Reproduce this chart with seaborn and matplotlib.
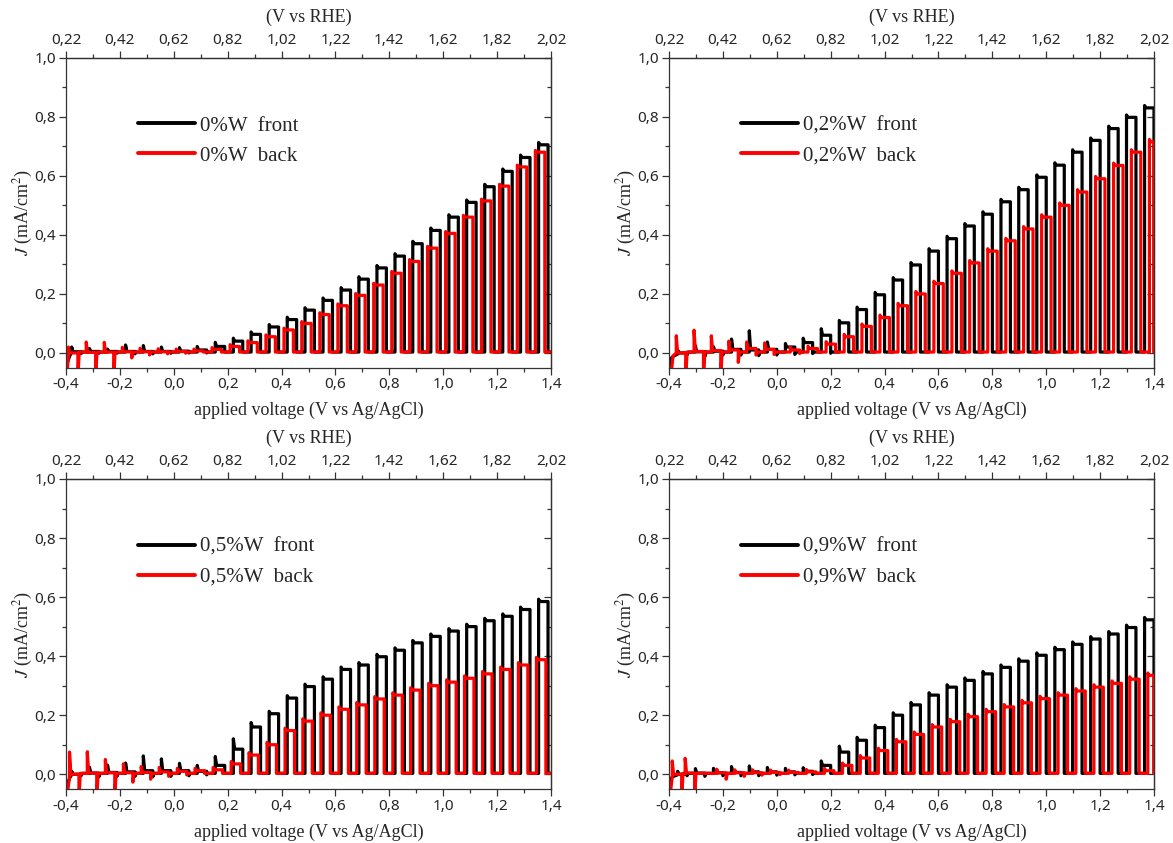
import matplotlib
matplotlib.use("Agg")
import matplotlib.pyplot as plt
from matplotlib.lines import Line2D
from matplotlib.ticker import MultipleLocator, FixedLocator, FuncFormatter
import seaborn as sns

# ---------------------------------------------------------------------------
# Chopped-light linear sweeps: light-on potential (V vs Ag/AgCl) of each pulse,
# steady photocurrent during the pulse (mA/cm2), on-transient and off-transient.
# ---------------------------------------------------------------------------

# 0 %W
W0_FRONT_ON = [-0.379, -0.313, -0.246, -0.179, -0.113, -0.046, 0.021, 0.087, 0.154,
               0.221, 0.287, 0.354, 0.421, 0.487, 0.554, 0.621, 0.687, 0.754, 0.821,
               0.887, 0.954, 1.021, 1.087, 1.154, 1.221, 1.287, 1.354]
W0_FRONT_J = [0.004, 0.005, 0.005, 0.005, 0.005, 0.005, 0.006, 0.010, 0.022,
              0.040, 0.063, 0.088, 0.113, 0.145, 0.178, 0.213, 0.250, 0.288, 0.328,
              0.370, 0.415, 0.460, 0.510, 0.563, 0.615, 0.662, 0.705]
W0_FRONT_SPIKE = [0.016, 0.010, 0.008, 0.022, 0.020, 0.015, 0.012, 0.012, 0.014, 0.010, 0.008]
W0_FRONT_DIP = [-0.005, -0.004, -0.004, -0.006, -0.006, -0.004, -0.003, -0.003, 0.0]
W0_FRONT_START_V = [-0.400, -0.393, -0.386, -0.379]
W0_FRONT_START_J = [-0.050, -0.028, -0.010, 0.002]

W0_BACK_ON = [-0.391, -0.325, -0.258, -0.191, -0.125, -0.058, 0.009, 0.075, 0.142,
              0.209, 0.275, 0.342, 0.409, 0.475, 0.542, 0.609, 0.675, 0.742, 0.809,
              0.875, 0.942, 1.009, 1.075, 1.142, 1.209, 1.275, 1.342]
W0_BACK_J = [0.000, 0.002, 0.003, 0.004, 0.004, 0.004, 0.005, 0.007, 0.012,
             0.022, 0.035, 0.055, 0.078, 0.100, 0.130, 0.160, 0.195, 0.230, 0.270,
             0.310, 0.355, 0.405, 0.460, 0.515, 0.565, 0.630, 0.680]
W0_BACK_SPIKE = [0.020, 0.035, 0.033, 0.015, 0.012, 0.010, 0.008, 0.006]
W0_BACK_DIP = [-0.090, -0.090, -0.090, -0.020, -0.010, -0.006, -0.004, 0.0]
W0_BACK_START_V = [-0.397, -0.391]
W0_BACK_START_J = [-0.080, -0.010]

# 0,2 %W
W2_FRONT_ON = [-0.368, -0.302, -0.235, -0.168, -0.102, -0.035, 0.032, 0.098, 0.165,
               0.232, 0.298, 0.365, 0.432, 0.498, 0.565, 0.632, 0.698, 0.765, 0.832,
               0.898, 0.965, 1.032, 1.098, 1.165, 1.232, 1.298, 1.365]
W2_FRONT_J = [0.000, 0.004, 0.006, 0.012, 0.010, 0.012, 0.020, 0.035, 0.060,
              0.102, 0.147, 0.197, 0.247, 0.298, 0.345, 0.387, 0.430, 0.470, 0.512,
              0.553, 0.595, 0.636, 0.680, 0.720, 0.760, 0.798, 0.830]
W2_FRONT_SPIKE = [0.010, 0.020, 0.015, 0.035, 0.065, 0.025, 0.012, 0.015, 0.022, 0.008]
W2_FRONT_DIP = [-0.010, -0.015, -0.010, -0.010, -0.012, -0.010, -0.008, -0.005, -0.004, 0.0]
W2_FRONT_START_V = [-0.400, -0.395, -0.385, -0.368]
W2_FRONT_START_J = [-0.050, -0.020, -0.012, -0.004]

W2_BACK_ON = [-0.373, -0.307, -0.243, -0.178, -0.112, -0.045, 0.050, 0.116, 0.183,
              0.250, 0.316, 0.383, 0.450, 0.516, 0.583, 0.650, 0.716, 0.783, 0.850,
              0.916, 0.983, 1.050, 1.116, 1.183, 1.250, 1.316, 1.383]
W2_BACK_J = [0.000, 0.005, 0.008, 0.010, 0.015, 0.012, 0.010, 0.015, 0.030,
             0.055, 0.090, 0.120, 0.160, 0.200, 0.235, 0.270, 0.305, 0.345, 0.380,
             0.420, 0.460, 0.500, 0.545, 0.590, 0.635, 0.680, 0.715]
W2_BACK_SPIKE = [0.058, 0.072, 0.050, 0.030, 0.022, 0.022, 0.010, 0.008, 0.008]
W2_BACK_DIP = [-0.090, -0.090, -0.090, -0.035, -0.010, -0.008, -0.005, 0.0]
W2_BACK_START_V = [-0.393, -0.385, -0.373]
W2_BACK_START_J = [-0.080, -0.010, 0.000]

# 0,5 %W
W5_FRONT_ON = W0_FRONT_ON
W5_FRONT_J = [0.000, 0.004, 0.006, 0.008, 0.012, 0.012, 0.012, 0.010, 0.030,
              0.085, 0.160, 0.205, 0.258, 0.297, 0.322, 0.355, 0.370, 0.398, 0.420,
              0.445, 0.467, 0.485, 0.500, 0.520, 0.535, 0.558, 0.585]
W5_FRONT_SPIKE = [0.010, 0.020, 0.025, 0.030, 0.050, 0.040, 0.025, 0.020, 0.030, 0.035, 0.015, 0.008]
W5_FRONT_DIP = [-0.008, -0.012, -0.010, -0.010, -0.012, -0.010, -0.008, -0.005, 0.0]
W5_FRONT_START_V = [-0.400, -0.393, -0.386, -0.379]
W5_FRONT_START_J = [-0.050, -0.030, -0.012, -0.002]

W5_BACK_ON = [-0.387, -0.321, -0.254, -0.187, -0.121, -0.054, 0.013, 0.079, 0.146,
              0.213, 0.279, 0.346, 0.413, 0.479, 0.546, 0.613, 0.679, 0.746, 0.813,
              0.879, 0.946, 1.013, 1.079, 1.146, 1.213, 1.279, 1.346]
W5_BACK_J = [0.000, 0.004, 0.005, 0.005, 0.006, 0.008, 0.010, 0.012, 0.015,
             0.035, 0.065, 0.100, 0.148, 0.180, 0.200, 0.220, 0.235, 0.255, 0.268,
             0.285, 0.300, 0.312, 0.325, 0.340, 0.355, 0.370, 0.388]
W5_BACK_SPIKE = [0.075, 0.072, 0.045, 0.030, 0.020, 0.015, 0.010, 0.008]
W5_BACK_DIP = [-0.090, -0.090, -0.080, -0.030, -0.020, -0.010, -0.005, 0.0]
W5_BACK_START_V = [-0.397, -0.387]
W5_BACK_START_J = [-0.080, -0.010]

# 0,9 %W
W9_FRONT_ON = W2_FRONT_ON
W9_FRONT_J = [0.000, 0.004, 0.005, 0.006, 0.008, 0.008, 0.008, 0.010, 0.030,
              0.075, 0.115, 0.158, 0.200, 0.235, 0.268, 0.295, 0.318, 0.340, 0.362,
              0.383, 0.403, 0.422, 0.440, 0.458, 0.475, 0.497, 0.523]
W9_FRONT_SPIKE = [0.010, 0.015, 0.015, 0.020, 0.020, 0.015, 0.012, 0.012, 0.015, 0.020, 0.010, 0.008]
W9_FRONT_DIP = [-0.008, -0.010, -0.008, -0.008, -0.008, -0.006, -0.005, -0.004, 0.0]
W9_FRONT_START_V = [-0.400, -0.395, -0.385, -0.368]
W9_FRONT_START_J = [-0.050, -0.015, -0.008, -0.002]

W9_BACK_ON = [-0.388, -0.340, -0.223, -0.156, -0.090, -0.023, 0.044, 0.110, 0.177,
              0.244, 0.310, 0.377, 0.444, 0.510, 0.577, 0.644, 0.710, 0.777, 0.844,
              0.910, 0.977, 1.044, 1.110, 1.177, 1.244, 1.310, 1.377]
W9_BACK_J = [0.000, 0.004, 0.005, 0.005, 0.005, 0.006, 0.006, 0.008, 0.012,
             0.030, 0.055, 0.080, 0.110, 0.135, 0.160, 0.178, 0.195, 0.212, 0.228,
             0.242, 0.256, 0.268, 0.282, 0.295, 0.308, 0.322, 0.335]
W9_BACK_SPIKE = [0.045, 0.050, 0.012, 0.010, 0.010, 0.008]
W9_BACK_DIP = [-0.090, -0.090, -0.020, -0.010, -0.006, -0.004, 0.0]
W9_BACK_START_V = [-0.397, -0.388]
W9_BACK_START_J = [-0.080, -0.010]

SAMPLES = ["0%W", "0,2%W", "0,5%W", "0,9%W"]
FRONT = [
    (W0_FRONT_ON, W0_FRONT_J, W0_FRONT_SPIKE, W0_FRONT_DIP, W0_FRONT_START_V, W0_FRONT_START_J),
    (W2_FRONT_ON, W2_FRONT_J, W2_FRONT_SPIKE, W2_FRONT_DIP, W2_FRONT_START_V, W2_FRONT_START_J),
    (W5_FRONT_ON, W5_FRONT_J, W5_FRONT_SPIKE, W5_FRONT_DIP, W5_FRONT_START_V, W5_FRONT_START_J),
    (W9_FRONT_ON, W9_FRONT_J, W9_FRONT_SPIKE, W9_FRONT_DIP, W9_FRONT_START_V, W9_FRONT_START_J),
]
BACK = [
    (W0_BACK_ON, W0_BACK_J, W0_BACK_SPIKE, W0_BACK_DIP, W0_BACK_START_V, W0_BACK_START_J),
    (W2_BACK_ON, W2_BACK_J, W2_BACK_SPIKE, W2_BACK_DIP, W2_BACK_START_V, W2_BACK_START_J),
    (W5_BACK_ON, W5_BACK_J, W5_BACK_SPIKE, W5_BACK_DIP, W5_BACK_START_V, W5_BACK_START_J),
    (W9_BACK_ON, W9_BACK_J, W9_BACK_SPIKE, W9_BACK_DIP, W9_BACK_START_V, W9_BACK_START_J),
]

V_END = 1.4          # end of sweep
PULSE = 0.035        # light-on length of each chop, in V of sweep
RISE = 0.005         # decay length of the on/off transients
DARK = 0.003         # dark current level
RHE_SHIFT = 0.62     # V vs RHE minus V vs Ag/AgCl

RHE_TICKS = [0.22, 0.42, 0.62, 0.82, 1.02, 1.22, 1.42, 1.62, 1.82, 2.02]

FRONT_COLOR = "#000000"
BACK_COLOR = "#ff0000"
SPINE_COLOR = "#333333"
SERIF = ["Liberation Serif", "DejaVu Serif"]
SANS = ["Noto Sans", "DejaVu Sans"]


def chop_trace(on_v, j_on, spike, dip, start_v, start_j):
    """Turn the per-pulse values into a square-wave photocurrent trace."""
    xs, ys = list(start_v), list(start_j)
    for i, (v0, j) in enumerate(zip(on_v, j_on)):
        s = spike[i] if i < len(spike) else spike[-1]
        d = dip[i] if i < len(dip) else 0.0
        v1 = v0 + PULSE
        if v1 >= V_END:
            xs += [v0, v0, v0 + RISE, V_END, V_END]
            ys += [DARK, j + s, j, j, DARK]
            return xs, ys
        xs += [v0, v0, v0 + RISE, v1, v1, v1 + RISE]
        ys += [DARK, j + s, j, j, DARK + d, DARK]
    xs.append(V_END)
    ys.append(DARK)
    return xs, ys


def comma(fmt):
    def _f(v, _):
        s = fmt % v
        if s.startswith("-") and float(s) == 0:
            s = s[1:]
        return s.replace(".", ",")
    return FuncFormatter(_f)


sns.set_style("ticks")
plt.rcParams["font.family"] = SANS
plt.rcParams["mathtext.fontset"] = "stix"

fig = plt.figure(figsize=(11.73, 8.43), dpi=100)
W, H = 1173.0, 843.0
lefts = [66 / W, 669 / W]
bottoms = [(H - 367.7) / H, (H - 789) / H]
aw, ah = 485 / W, 310 / H

for k, name in enumerate(SAMPLES):
    ax = fig.add_axes([lefts[k % 2], bottoms[k // 2], aw, ah])

    for params, color in ((FRONT[k], FRONT_COLOR), (BACK[k], BACK_COLOR)):
        xs, ys = chop_trace(*params)
        sns.lineplot(x=xs, y=ys, sort=False, estimator=None, color=color,
                     linewidth=2.3, ax=ax, legend=False)

    ax.set_xlim(-0.4, 1.4)
    ax.set_ylim(-0.05, 1.0)
    ax.xaxis.set_major_locator(MultipleLocator(0.2))
    ax.xaxis.set_minor_locator(MultipleLocator(0.1))
    ax.yaxis.set_major_locator(MultipleLocator(0.2))
    ax.yaxis.set_minor_locator(MultipleLocator(0.1))
    ax.xaxis.set_major_formatter(comma("%.1f"))
    ax.yaxis.set_major_formatter(comma("%.1f"))
    ax.tick_params(which="both", direction="out", top=False, right=False,
                   color=SPINE_COLOR, width=0.9, labelsize=11, pad=2)
    ax.tick_params(which="major", length=5)
    ax.tick_params(which="minor", length=3)
    for sp in ax.spines.values():
        sp.set_visible(True)
        sp.set_color(SPINE_COLOR)
        sp.set_linewidth(0.9)

    # right-hand inward ticks
    rax = ax.secondary_yaxis("right")
    rax.yaxis.set_major_locator(MultipleLocator(0.2))
    rax.yaxis.set_minor_locator(MultipleLocator(0.1))
    rax.tick_params(which="both", direction="in", labelright=False,
                    color=SPINE_COLOR, width=0.9)
    rax.tick_params(which="major", length=5)
    rax.tick_params(which="minor", length=3)
    rax.spines["right"].set_color(SPINE_COLOR)
    rax.spines["right"].set_linewidth(0.9)

    # top axis in the RHE scale
    tax = ax.secondary_xaxis("top", functions=(lambda v: v + RHE_SHIFT,
                                               lambda r: r - RHE_SHIFT))
    tax.xaxis.set_major_locator(FixedLocator(RHE_TICKS))
    tax.xaxis.set_minor_locator(FixedLocator([t + 0.1 for t in RHE_TICKS[:-1]]))
    tax.xaxis.set_major_formatter(comma("%.2f"))
    tax.tick_params(which="both", direction="out", color=SPINE_COLOR, width=0.9,
                    labelsize=11, pad=2)
    tax.tick_params(which="major", length=5)
    tax.tick_params(which="minor", length=3)
    tax.spines["top"].set_color(SPINE_COLOR)
    tax.spines["top"].set_linewidth(0.9)
    tax.set_xlabel("(V vs RHE)", fontsize=13, family=SERIF, labelpad=8)

    ax.set_xlabel("applied voltage (V vs Ag/AgCl)", fontsize=13, family=SERIF,
                  labelpad=7)
    ax.set_ylabel(r"$J$ (mA/cm$^2$)", fontsize=13, family=SERIF, labelpad=0)

    handles = [Line2D([], [], color=FRONT_COLOR, lw=2.8),
               Line2D([], [], color=BACK_COLOR, lw=2.8)]
    ax.legend(handles, [f"{name}  front", f"{name}  back"], loc="upper left",
              bbox_to_anchor=(0.148, 0.812), frameon=False, borderaxespad=0,
              borderpad=0, handlelength=2.75, handletextpad=0.25,
              labelspacing=0.5, prop={"family": SERIF, "size": 15})

fig.savefig("out.png", dpi=100)
